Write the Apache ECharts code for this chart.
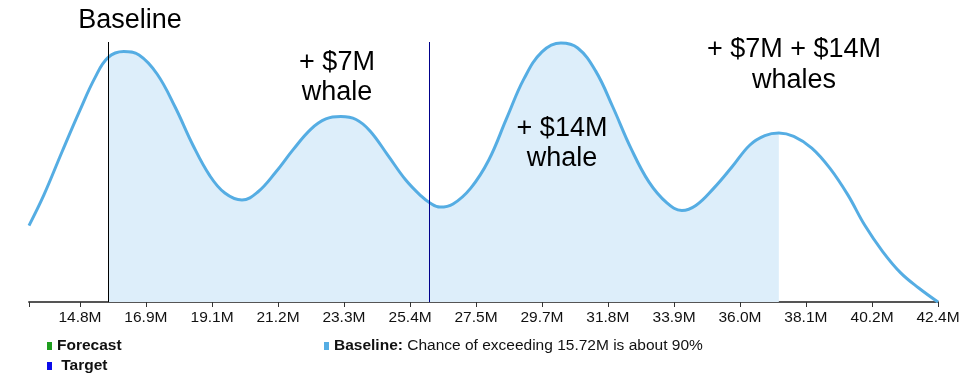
<!DOCTYPE html>
<html><head><meta charset="utf-8">
<script src="https://cdn.jsdelivr.net/npm/echarts@6/dist/echarts.min.js"></script>
<style>html,body{margin:0;padding:0;background:#fff}#c{width:980px;height:392px}</style>
</head><body><div id="c"></div>
<script>
// Revenue outcome (M$) and relative probability density
const xValues = [13.16, 13.64, 14.22, 14.80, 15.28, 15.70, 16.21, 16.70, 17.28, 17.86, 18.43, 18.98, 19.46, 20.01, 20.52, 21.10, 21.65, 22.23, 22.71, 23.19, 23.68, 24.13, 24.70, 25.28, 25.77, 26.06, 26.38, 26.80, 27.37, 27.95, 28.53, 29.08, 29.66, 30.27, 30.81, 31.39, 31.94, 32.52, 33.10, 33.68, 34.16, 34.61, 35.19, 35.77, 36.35, 36.83, 37.28, 37.76, 38.34, 38.92, 39.50, 40.04, 40.62, 41.20, 41.78, 42.40];
const density = [0.294, 0.412, 0.577, 0.738, 0.862, 0.940, 0.963, 0.950, 0.877, 0.750, 0.604, 0.485, 0.419, 0.392, 0.423, 0.500, 0.585, 0.665, 0.704, 0.713, 0.702, 0.658, 0.565, 0.469, 0.408, 0.381, 0.365, 0.377, 0.438, 0.546, 0.708, 0.858, 0.962, 0.996, 0.977, 0.888, 0.750, 0.592, 0.462, 0.381, 0.352, 0.371, 0.438, 0.519, 0.604, 0.640, 0.650, 0.637, 0.592, 0.515, 0.412, 0.296, 0.194, 0.112, 0.054, 0.0];
const tickValues = [13.16, 14.80, 16.92, 19.05, 21.17, 23.29, 25.42, 27.54, 29.66, 31.78, 33.91, 36.03, 38.15, 40.28, 42.40];
const tickLabels = ['', '14.8M', '16.9M', '19.1M', '21.2M', '23.3M', '25.4M', '27.5M', '29.7M', '31.8M', '33.9M', '36.0M', '38.1M', '40.2M', '42.4M'];
const baselineMark = 15.70;
const targetMark = 26.03;
const fillEnd = 37.28;
const axisMin = 13.16;
const axisMax = 42.40;
const baselineNote = 'Chance of exceeding 15.72M is about 90%';

const FONT = '"Liberation Sans", Arial, Helvetica, sans-serif';
const curve = xValues.map((x, i) => [x, density[i]]);
const fillData = curve.filter(p => p[0] >= baselineMark - 1e-9 && p[0] <= fillEnd + 1e-9);

function labelFor(v) {
  let best = 0, bd = Infinity;
  tickValues.forEach((t, i) => { const d = Math.abs(t - v); if (d < bd) { bd = d; best = i; } });
  return tickLabels[best];
}

const chart = echarts.init(document.getElementById('c'), null, { renderer: 'canvas' });
const annStyle = { fontFamily: FONT, fontSize: 27, lineHeight: 30, align: 'center', verticalAlign: 'top', fill: '#000' };
chart.setOption({
  animation: false,
  backgroundColor: '#fff',
  grid: { left: 29, right: 42, top: 42, bottom: 90, containLabel: false },
  xAxis: {
    type: 'value', min: axisMin, max: axisMax,
    axisLine: { lineStyle: { color: '#555', width: 2 } },
    axisTick: { customValues: tickValues, length: 5, lineStyle: { color: '#333', width: 1 } },
    axisLabel: { customValues: tickValues.slice(1), formatter: labelFor, fontFamily: FONT, fontSize: 15.5, color: '#111', margin: 8 },
    splitLine: { show: false }
  },
  yAxis: { type: 'value', min: 0, max: 1, show: false },
  legend: [
    {
      data: ['Forecast', 'Target'], orient: 'vertical', left: 47, top: 336, padding: 0,
      icon: 'rect', itemWidth: 5, itemHeight: 8, itemGap: 0, selectedMode: false,
      itemStyle: { borderWidth: 0 },
      formatter: n => (n === 'Target' ? ' ' + n : n),
      textStyle: { fontFamily: FONT, fontSize: 15.5, fontWeight: 'bold', color: '#111', lineHeight: 20 }
    },
    {
      data: ['Baseline'], left: 324, top: 336, padding: 0,
      icon: 'rect', itemWidth: 5, itemHeight: 8, selectedMode: false,
      itemStyle: { borderWidth: 0 },
      formatter: () => '{b|Baseline:} {n|' + baselineNote + '}',
      textStyle: {
        fontFamily: FONT, fontSize: 15.5, color: '#111', lineHeight: 20,
        rich: {
          b: { fontFamily: FONT, fontSize: 15.5, fontWeight: 'bold', color: '#111', lineHeight: 20 },
          n: { fontFamily: FONT, fontSize: 15.5, color: '#111', lineHeight: 20 }
        }
      }
    }
  ],
  series: [
    {
      name: 'Baseline range', type: 'line', data: fillData, smooth: 0.4, symbol: 'none',
      lineStyle: { width: 0 }, areaStyle: { color: '#ddeefa', opacity: 1 }, silent: true, z: 1,
      markLine: {
        silent: true, symbol: 'none', label: { show: false },
        data: [
          { xAxis: baselineMark, lineStyle: { color: '#000', width: 1, type: 'solid' } },
          { xAxis: targetMark, lineStyle: { color: '#00008b', width: 1, type: 'solid' } }
        ]
      }
    },
    {
      name: 'Baseline', type: 'line', data: curve, smooth: 0.4, symbol: 'none', clip: false, z: 3,
      lineStyle: { color: '#55ade3', width: 3 }, itemStyle: { color: '#55ade3' }
    },
    { name: 'Forecast', type: 'line', data: [], itemStyle: { color: '#1f9e1f' } },
    { name: 'Target', type: 'line', data: [], itemStyle: { color: '#0b0bea' } }
  ],
  graphic: [
    { type: 'text', z: 100, x: 130, y: 6, style: Object.assign({ text: 'Baseline' }, annStyle) },
    { type: 'text', z: 100, x: 337, y: 48, style: Object.assign({ text: '+ $7M\nwhale' }, annStyle) },
    { type: 'text', z: 100, x: 562, y: 114, style: Object.assign({ text: '+ $14M\nwhale' }, annStyle) },
    { type: 'text', z: 100, x: 794, y: 34, style: Object.assign({ text: '+ $7M + $14M\nwhales' }, annStyle, { lineHeight: 31 }) }
  ]
});
</script></body></html>
